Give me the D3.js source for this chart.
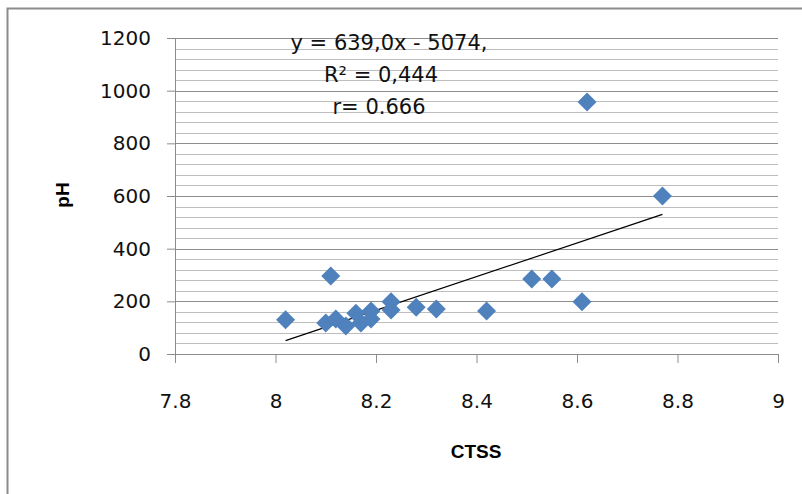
<!DOCTYPE html>
<html>
<head>
<meta charset="utf-8">
<script src="https://cdn.jsdelivr.net/npm/d3@7"></script>
<style>
  body { margin: 0; background: #fff; }
  .chart text { font-family: "DejaVu Sans", sans-serif; fill: #111; }
  .chart text.title { font-family: "Liberation Sans", Arial, sans-serif; fill: #000; }
</style>
</head>
<body>
<div class="chart"></div>
<script>
// Data
var ctss = [8.02, 8.10, 8.11, 8.12, 8.14, 8.16, 8.17, 8.19, 8.19, 8.23, 8.23, 8.28, 8.32, 8.42, 8.51, 8.55, 8.61, 8.62, 8.77];
var ph   = [130, 118, 296, 133, 106, 155, 118, 163, 133, 198, 167, 178, 171, 163, 285, 285, 198, 957, 600];
var xTicks = [7.8, 8, 8.2, 8.4, 8.6, 8.8, 9];
var yTicks = [0, 200, 400, 600, 800, 1000, 1200];
var trendX = [8.02, 8.77];
var slope = 639.0, intercept = -5074;
var eqLines = ["y = 639,0x - 5074,", "R² = 0,444", "r= 0.666"];

var svgWidth = 802;
var svgHeight = 494;
var margin = {top: 38, right: 24, bottom: 140, left: 175};
var width = 778 - margin.left;
var height = 354 - margin.top;

var svg = d3.select(".chart")
    .append("svg")
    .attr("width", svgWidth)
    .attr("height", svgHeight);

// outer chart frame (runs off the right/bottom edge)
svg.append("rect")
    .attr("x", 7.5).attr("y", 8.5)
    .attr("width", 820).attr("height", 520)
    .attr("fill", "none")
    .attr("stroke", "#8c8c8c")
    .attr("stroke-width", 2);

var chartGroup = svg.append("g")
    .attr("transform", "translate(" + margin.left + "," + margin.top + ")");

var xScale = d3.scaleLinear().domain([7.8, 9]).range([0, width]);
var yScale = d3.scaleLinear().domain([0, 1200]).range([height, 0]);

// minor gridlines every 40
var minor = d3.range(40, 1200, 40).filter(d => d % 200 !== 0);
chartGroup.selectAll(".minor")
    .data(minor)
    .enter().append("line")
    .attr("x1", 0).attr("x2", width)
    .attr("y1", d => Math.round(yScale(d)) + 0.5)
    .attr("y2", d => Math.round(yScale(d)) + 0.5)
    .attr("stroke", "#bdbdbd");

// major gridlines
chartGroup.selectAll(".major")
    .data(yTicks.filter(d => d > 0))
    .enter().append("line")
    .attr("x1", 0).attr("x2", width)
    .attr("y1", d => Math.round(yScale(d)) + 0.5)
    .attr("y2", d => Math.round(yScale(d)) + 0.5)
    .attr("stroke", "#8e8e8e");

// axes
var bottomAxis = d3.axisBottom(xScale).tickValues(xTicks).tickSize(9).tickSizeOuter(0)
    .tickFormat(d3.format("~g"));
var leftAxis = d3.axisLeft(yScale).tickValues(yTicks).tickSize(8).tickSizeOuter(0)
    .tickFormat(d3.format("d"));

var gx = chartGroup.append("g")
    .attr("transform", `translate(0, ${height})`)
    .call(bottomAxis);
gx.select(".domain").attr("stroke", "#8c8c8c");
gx.selectAll(".tick line").attr("stroke", "#8c8c8c");
gx.selectAll("text").attr("font-size", 20).attr("font-family", null).attr("dy", "2.1em");

var gy = chartGroup.append("g")
    .call(leftAxis);
gy.select(".domain").attr("stroke", "#8c8c8c");
gy.selectAll(".tick line").attr("stroke", "#8c8c8c");
gy.selectAll("text").attr("font-size", 20).attr("font-family", null).attr("x", -24);

// trend line
var line = d3.line()
    .x(d => xScale(d))
    .y(d => yScale(slope * d + intercept));
chartGroup.append("path")
    .datum(trendX)
    .attr("d", line)
    .attr("fill", "none")
    .attr("stroke", "#000")
    .attr("stroke-width", 1.2);

// diamonds
var pts = ctss.map((x, i) => ({x: x, y: ph[i]}));
chartGroup.selectAll(".pt")
    .data(pts)
    .enter().append("path")
    .attr("transform", d => `translate(${xScale(d.x)},${yScale(d.y)})`)
    .attr("d", "M0,-9.5L9.5,0L0,9.5L-9.5,0Z")
    .attr("fill", "#4f81bd");

// equation text
chartGroup.selectAll(".eq")
    .data(eqLines)
    .enter().append("text")
    .attr("x", (d, i) => [214, 206, 204][i])
    .attr("y", (d, i) => 12 + i * 32)
    .attr("text-anchor", "middle")
    .attr("font-size", 21)
    .text(d => d);

// axis titles
svg.append("text")
    .attr("class", "title")
    .attr("transform", "translate(69, 195) rotate(-90)")
    .attr("text-anchor", "middle")
    .attr("font-size", 19)
    .attr("font-weight", "bold")
    .text("pH");

svg.append("text")
    .attr("class", "title")
    .attr("x", 476).attr("y", 458)
    .attr("text-anchor", "middle")
    .attr("font-size", 19)
    .attr("font-weight", "bold")
    .text("CTSS");
</script>
</body>
</html>
